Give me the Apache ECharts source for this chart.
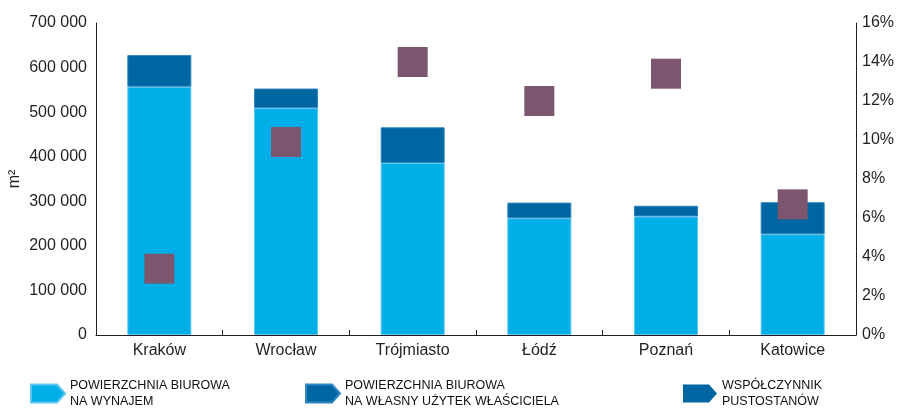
<!DOCTYPE html>
<html>
<head>
<meta charset="utf-8">
<script src="https://cdn.jsdelivr.net/npm/echarts@6/dist/echarts.min.js"></script>
<style>
  html, body { margin: 0; padding: 0; background: #fff; }
  #chart { width: 899px; height: 409px; }
</style>
</head>
<body>
<div id="chart"></div>
<script>
// Office stock by city (m²) and vacancy rate (%)
const cities = ['Kraków', 'Wrocław', 'Trójmiasto', 'Łódź', 'Poznań', 'Katowice'];
const rentalSpace = [557000, 509000, 386000, 262000, 266000, 226000];
const ownerOccupied = [71000, 44000, 80000, 35000, 24000, 72000];
const vacancyRate = [3.4, 9.9, 14.0, 12.0, 13.4, 6.7];

const leftTicks = { min: 0, max: 700000, interval: 100000 };
const rightTicks = { min: 0, max: 16, interval: 2 };

const legendLabels = {
  rent: 'POWIERZCHNIA BIUROWA\nNA WYNAJEM',
  own: 'POWIERZCHNIA BIUROWA\nNA WŁASNY UŻYTEK WŁAŚCICIELA',
  vac: 'WSPÓŁCZYNNIK\nPUSTOSTANÓW'
};

const LIGHT = '#00aee8';
const DARK = '#0066a1';
const PLUM = '#7c566e';
const FONT = "'Liberation Sans', Arial, sans-serif";
const INK = '#231f20';

const fmtThousands = v => String(v).replace(/\B(?=(\d{3})+(?!\d))/g, ' ');
const arrowIcon = 'path://M0,0 L26,0 L34,9 L26,18 L0,18 Z';

function legendAt(left, key, color) {
  return {
    left: left, top: 378, padding: 0,
    icon: arrowIcon, itemWidth: 34, itemHeight: 18, itemGap: 0,
    selectedMode: false,
    data: [{ name: key, itemStyle: { color: color } }],
    formatter: n => legendLabels[n],
    textStyle: { fontFamily: FONT, fontSize: 12.5, color: '#111', lineHeight: 15.5 }
  };
}

const chart = echarts.init(document.getElementById('chart'), null, { renderer: 'canvas' });
chart.setOption({
  animation: false,
  backgroundColor: '#fff',
  grid: { left: 96, right: 43, top: 23, bottom: 74, containLabel: false, outerBoundsMode: 'none' },
  legend: [
    legendAt(30, 'rent', LIGHT),
    legendAt(305, 'own', DARK),
    legendAt(683, 'vac', DARK)
  ],
  xAxis: {
    type: 'category',
    data: cities,
    axisLine: { lineStyle: { color: INK, width: 1 } },
    axisTick: { show: true, inside: true, length: 5, interval: 0, lineStyle: { color: INK } },
    axisLabel: { fontFamily: FONT, fontSize: 16, color: INK, margin: 8, interval: 0 }
  },
  yAxis: [
    {
      type: 'value',
      min: leftTicks.min, max: leftTicks.max, interval: leftTicks.interval,
      name: 'm²', nameLocation: 'middle', nameGap: 73, nameRotate: 90,
      nameMoveOverlap: false,
      nameTextStyle: { fontFamily: FONT, fontSize: 16, color: INK },
      axisLine: { show: true, lineStyle: { color: INK, width: 1 } },
      axisTick: { show: false },
      splitLine: { show: false },
      axisLabel: { fontFamily: FONT, fontSize: 16, color: INK, margin: 9, formatter: fmtThousands }
    },
    {
      type: 'value',
      min: rightTicks.min, max: rightTicks.max, interval: rightTicks.interval,
      position: 'right',
      axisLine: { show: true, lineStyle: { color: INK, width: 1 } },
      axisTick: { show: false },
      splitLine: { show: false },
      axisLabel: { fontFamily: FONT, fontSize: 16, color: INK, margin: 6, formatter: '{value}%' }
    }
  ],
  series: [
    {
      name: 'rent', type: 'bar', stack: 'stock', barWidth: 64,
      data: rentalSpace,
      itemStyle: { color: LIGHT, borderColor: '#5cc6ef', borderWidth: 1 }
    },
    {
      name: 'own', type: 'bar', stack: 'stock', barWidth: 64,
      data: ownerOccupied,
      itemStyle: { color: DARK, borderColor: '#2f86c0', borderWidth: 1 }
    },
    {
      name: 'vac', type: 'scatter', yAxisIndex: 1,
      symbol: 'rect', symbolSize: 30,
      data: vacancyRate,
      itemStyle: { color: PLUM, opacity: 1 },
      z: 5
    }
  ]
});
</script>
</body>
</html>
